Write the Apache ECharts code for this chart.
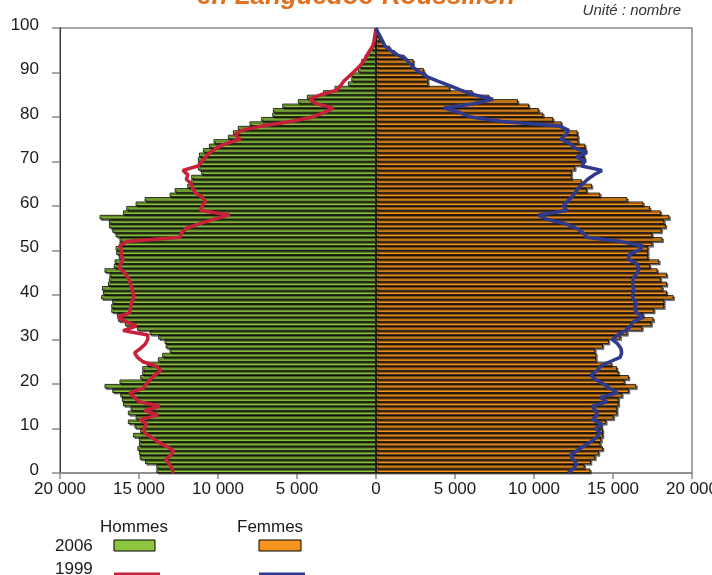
<!DOCTYPE html>
<html><head><meta charset="utf-8">
<script src="https://cdn.jsdelivr.net/npm/echarts@6/dist/echarts.min.js"></script>
<style>html,body{margin:0;padding:0;background:#fff}#c{width:712px;height:575px}</style>
</head><body><div id="c"></div>
<script>
// Age categories for the 2006 bars (one band per age)
const ageCategories = [0,1,2,3,4,5,6,7,8,9,10,11,12,13,14,15,16,17,18,19,20,21,22,23,24,25,26,27,28,29,30,31,32,33,34,35,36,37,38,39,40,41,42,43,44,45,46,47,48,49,50,51,52,53,54,55,56,57,58,59,60,61,62,63,64,65,66,67,68,69,70,71,72,73,74,75,76,77,78,79,80,81,82,83,84,85,86,87,88,89,90,91,92,93,94,95,96,97,98,99];
// Age positions for the 1999 lines
const lineAges = [0,1,2,3,4,5,6,7,8,9,10,11,12,13,14,15,16,17,18,19,20,21,22,23,24,25,26,27,28,29,30,31,32,33,34,35,36,37,38,39,40,41,42,43,44,45,46,47,48,49,50,51,52,53,54,55,56,57,58,59,60,61,62,63,64,65,66,67,68,69,70,71,72,73,74,75,76,77,78,79,80,81,82,83,84,85,86,87,88,89,90,91,92,93,94,95,96,97,98,99,100];

const hommes2006 = [13900,13900,14620,14960,15000,15100,15000,15000,15380,14920,15280,15700,15210,15700,15530,16010,16080,16180,16690,17180,16230,14920,14790,14790,14500,13800,13530,13060,13310,13380,13780,14330,15130,15890,16330,16390,16750,16750,16690,17390,17280,17340,16960,16900,16860,17180,16590,16540,16270,16440,16480,16230,16230,16480,16690,16900,16900,17490,16010,15800,15210,14640,13060,12740,11940,11690,11690,11060,11270,11270,11270,11200,10950,10570,10280,9370,9050,8740,8000,7260,6560,6520,5930,4940,4370,3350,2620,1770,1560,1560,1140,1030,930,720,510,300,190,85,40,20];

const femmes2006 = [13560,13200,13600,13870,14100,14360,14200,14260,14360,14360,14300,14560,15040,15260,15260,15360,15360,15580,16000,16470,15730,16000,15360,15250,14900,13940,13940,13870,14360,14730,15470,15900,16850,17430,17560,16920,17600,18240,18240,18830,18410,18130,18410,18020,18410,17810,17340,17920,17220,17220,17220,17490,18130,17490,18070,18340,18240,18560,18020,17340,16920,15900,14190,13340,13660,13020,12380,12380,12600,13090,13240,13170,13300,13240,12810,12800,12750,11850,11750,11210,10580,10300,9680,8980,7170,6110,4660,3300,3300,3170,3020,2380,2380,1810,1210,890,470,255,150,60];

const hommes1999 = [12850,12900,13100,13300,13000,12800,13270,13800,14200,14640,14700,14500,14960,13800,14640,13690,14960,15300,15590,14750,14540,14300,14000,13600,13900,14750,15100,15280,14900,14600,14450,14430,16010,15170,15800,16330,15590,15550,15490,15380,15340,15420,15490,15600,15700,15910,16230,16150,16010,16120,16120,16230,15800,12400,12300,12000,11200,10300,9260,11100,11000,10800,11000,11450,11600,11690,12010,11900,12220,11270,11000,10800,10500,10110,9500,8600,8900,8500,7200,5400,4000,3300,2700,3800,4200,3500,2500,2250,2050,1750,1450,1150,900,700,550,380,200,130,80,40,0];

const femmes1999 = [12170,12500,12700,12500,12300,12700,13130,13600,13950,14190,13900,14300,13700,14000,13900,13700,14600,14200,15300,14800,14400,13900,13600,14000,14200,14800,15450,15550,15500,15300,14950,15300,15800,16100,16300,16900,16500,16350,16500,16300,16220,16320,16250,16250,16320,16550,16640,16500,16000,16000,16600,16900,15500,13340,13100,12700,12000,10800,10300,12070,11850,12100,12400,12600,12800,13100,13400,13800,14300,13020,13200,12700,13340,12600,12300,11700,12000,12200,11600,8000,6000,5300,4300,6200,7400,6200,5400,4700,3950,3250,2800,2400,2150,1900,1350,900,560,420,280,120,0];

const xTicks = [-20000,-15000,-10000,-5000,0,5000,10000,15000,20000];
const yTicks = [0,10,20,30,40,50,60,70,80,90,100];

const FONT = '"Liberation Sans", Arial, sans-serif';
const GREEN = '#8DC63F', ORANGE = '#F7941D', RED = '#C8203A', BLUE = '#2E3A8F', AXIS = '#8a8a8a';

function fmt(v){ return String(Math.abs(v)).replace(/\B(?=(\d{3})+(?!\d))/g, ' '); }

const chart = echarts.init(document.getElementById('c'));
const barStyle = (c) => ({color: c, borderColor: '#000', borderWidth: 0.8, shadowColor: 'rgba(0,0,0,0.5)', shadowOffsetX: 1.5, shadowOffsetY: 1.5, shadowBlur: 0});

chart.setOption({
  animation: false,
  backgroundColor: '#fff',
  grid: {left: 60, right: 20, top: 28, bottom: 102, show: true, borderColor: AXIS, borderWidth: 1.5,
         containLabel: false, outerBoundsMode: 'none'},
  xAxis: {
    type: 'value', min: xTicks[0], max: xTicks[xTicks.length-1], interval: 5000,
    axisLine: {show: true, onZero: false, lineStyle: {color: AXIS, width: 1.5}},
    axisTick: {show: true, length: 6, lineStyle: {color: AXIS, width: 1.5}},
    splitLine: {show: false},
    axisLabel: {formatter: fmt, color: '#1a1a1a', fontSize: 17, fontFamily: FONT, margin: 8}
  },
  yAxis: [
    {type: 'category', data: ageCategories, show: true, position: 'right', boundaryGap: true,
     axisLine: {show: true, lineStyle: {color: '#222', width: 1}},
     axisTick: {show: false}, axisLabel: {show: false}, splitLine: {show: false}},
    {type: 'value', min: yTicks[0], max: yTicks[yTicks.length-1], interval: 10, position: 'left',
     axisLine: {show: true, lineStyle: {color: '#333', width: 1}},
     axisTick: {show: true, length: 8, lineStyle: {color: AXIS, width: 1.5}},
     splitLine: {show: false},
     axisLabel: {color: '#1a1a1a', fontSize: 17, fontFamily: FONT, margin: 21,
                 formatter: '{a|{value}}', rich: {a: {fontSize: 17, fontFamily: FONT, color: '#1a1a1a', padding: [0, 0, 6, 0]}}}}
  ],
  series: [
    {type: 'bar', name: 'Hommes 2006', yAxisIndex: 0, barWidth: '100%', barGap: '-100%',
     data: hommes2006.map(v => -v), itemStyle: barStyle(GREEN)},
    {type: 'bar', name: 'Femmes 2006', yAxisIndex: 0, barWidth: '100%', barGap: '-100%',
     data: femmes2006, itemStyle: barStyle(ORANGE)},
    {type: 'line', name: 'Hommes 1999', yAxisIndex: 1, symbol: 'none', clip: false, z: 5,
     data: lineAges.map((a, i) => [-hommes1999[i], a]), lineStyle: {color: RED, width: 3.5}},
    {type: 'line', name: 'Femmes 1999', yAxisIndex: 1, symbol: 'none', clip: false, z: 5,
     data: lineAges.map((a, i) => [femmes1999[i], a]), lineStyle: {color: BLUE, width: 3.5}}
  ],
  graphic: [
    {type: 'text', style: {text: 'en Languedoc-Roussillon', x: 356, y: 10, textAlign: 'center', textVerticalAlign: 'bottom', font: 'italic bold 26px ' + FONT, fill: '#E07020'}},
    {type: 'text', style: {text: 'Unité : nombre', x: 681, y: 11, textAlign: 'right', textVerticalAlign: 'middle', font: 'italic 15px ' + FONT, fill: '#333'}},
    {type: 'text', style: {text: 'Hommes', x: 100, y: 527, textVerticalAlign: 'middle', font: '17px ' + FONT, fill: '#1a1a1a'}},
    {type: 'text', style: {text: 'Femmes', x: 237, y: 527, textVerticalAlign: 'middle', font: '17px ' + FONT, fill: '#1a1a1a'}},
    {type: 'text', style: {text: '2006', x: 55, y: 546, textVerticalAlign: 'middle', font: '17px ' + FONT, fill: '#1a1a1a'}},
    {type: 'text', style: {text: '1999', x: 55, y: 569, textVerticalAlign: 'middle', font: '17px ' + FONT, fill: '#1a1a1a'}},
    {type: 'rect', shape: {x: 114, y: 540, width: 41, height: 11}, style: {fill: GREEN, stroke: '#000', lineWidth: 1}},
    {type: 'rect', shape: {x: 259, y: 540, width: 42, height: 11}, style: {fill: ORANGE, stroke: '#000', lineWidth: 1}},
    {type: 'line', shape: {x1: 114, y1: 574, x2: 160, y2: 574}, style: {stroke: RED, lineWidth: 3}},
    {type: 'line', shape: {x1: 259, y1: 574, x2: 305, y2: 574}, style: {stroke: BLUE, lineWidth: 3}}
  ]
});
</script>
</body></html>
